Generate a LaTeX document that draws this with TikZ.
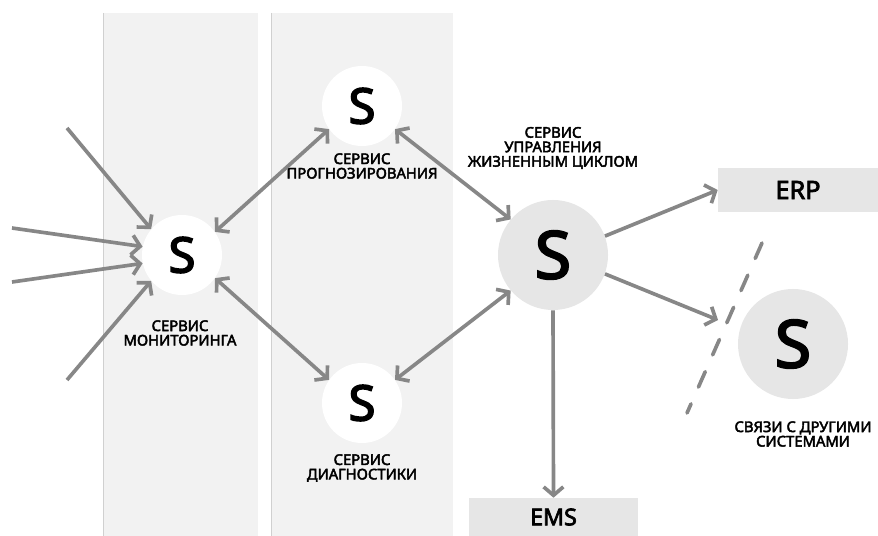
\documentclass[tikz,border=0pt]{standalone}
\usepackage{fontspec}
\setmainfont{Noto Sans}
\newfontfamily\medfont{Noto Sans}[FakeBold=3]
\newfontfamily\heavyfont{Noto Sans}[FakeBold=3]
\usepackage{tikz}
\usetikzlibrary{arrows.meta}

\definecolor{panelgray}{HTML}{F2F2F2}
\definecolor{panelline}{HTML}{D0D0D0}
\definecolor{boxgray}{HTML}{E6E6E6}
\definecolor{arrowgray}{HTML}{878787}

\tikzset{
    svc/.style={circle, fill=white, minimum size=2cm, inner sep=0pt,
        font=\heavyfont\fontsize{35}{35}\selectfont},
    bigsvc/.style={svc, fill=boxgray, minimum size=2.75cm,
        font=\heavyfont\fontsize{47}{47}\selectfont},
    sysbox/.style={rectangle, fill=boxgray, inner sep=0pt,
        font=\heavyfont\fontsize{18}{18}\selectfont},
    lbl/.style={align=center, inner sep=0pt,
        font=\medfont\fontsize{10.5}{10.3}\selectfont},
    barb/.tip={Straight Barb[length=6pt, width=14pt]},
    flow/.style={draw=arrowgray, line width=2.6pt, -barb},
    dflow/.style={flow, barb-barb},
}

\begin{document}
\begin{tikzpicture}[x=0.025cm, y=-0.025cm]
    \useasboundingbox (0,0) rectangle (878,536);

    % Background columns
    \fill[panelgray] (103,13) rectangle (258,536);
    \draw[panelline, line width=0.6pt] (103,13) -- (103,536);
    \fill[panelgray] (271,13) rectangle (453,536);
    \draw[panelline, line width=0.6pt] (271,13) -- (271,536);

    % Services
    \node[svc] (mon) at (182,255) {S};
    \node[lbl] (mon-lbl) at (180,333) {СЕРВИС\\МОНИТОРИНГА};
    \node[svc] (fc) at (362,106) {S};
    \node[lbl] (fc-lbl) at (362,166) {СЕРВИС\\ПРОГНОЗИРОВАНИЯ};
    \node[svc] (diag) at (362,403) {S};
    \node[lbl] (diag-lbl) at (362,468) {СЕРВИС\\ДИАГНОСТИКИ};
    \node[bigsvc] (lc) at (553,255) {S};
    \node[lbl] (lc-lbl) at (553,148) {СЕРВИС\\УПРАВЛЕНИЯ\\ЖИЗНЕННЫМ ЦИКЛОМ};
    \node[bigsvc] (ext) at (793,344) {S};
    \node[lbl] (ext-lbl) at (803,434) {СВЯЗИ С ДРУГИМИ\\СИСТЕМАМИ};

    % External systems
    \node[sysbox, minimum width=4cm, minimum height=1.1cm] (erp) at (798,190) {ERP};
    \node[sysbox, minimum width=4.225cm, minimum height=0.95cm,
        font=\heavyfont\fontsize{16.5}{16.5}\selectfont] (ems) at (553.5,517) {EMS};

    % Incoming data
    \coordinate (in1) at (67,128);
    \coordinate (in2) at (12,228);
    \coordinate (in3) at (12,282);
    \coordinate (in4) at (67,380);
    \draw[flow] (in1) -- (mon.140);
    \draw[flow] (in2) -- (mon.168);
    \draw[flow] (in3) -- (mon.192);
    \draw[flow] (in4) -- (mon.220);

    % Links between services
    \draw[dflow] (mon.35) -- (fc.215);
    \draw[dflow] (mon.-35) -- (diag.145);
    \draw[dflow] (fc.-35) -- (lc.140);
    \draw[dflow] (diag.35) -- (lc.220);

    % Outgoing links
    \coordinate (cut) at (718,320);
    \draw[flow] (lc.20) -- (erp.west);
    \draw[flow] (lc.-20) -- (cut);
    \draw[flow] (lc.south) -- (ems.north);

    % Boundary to other systems
    \draw[arrowgray, line width=2.6pt, line cap=round, dash pattern=on 12pt off 13pt]
        (762,243) -- (687,413);
\end{tikzpicture}
\end{document}
